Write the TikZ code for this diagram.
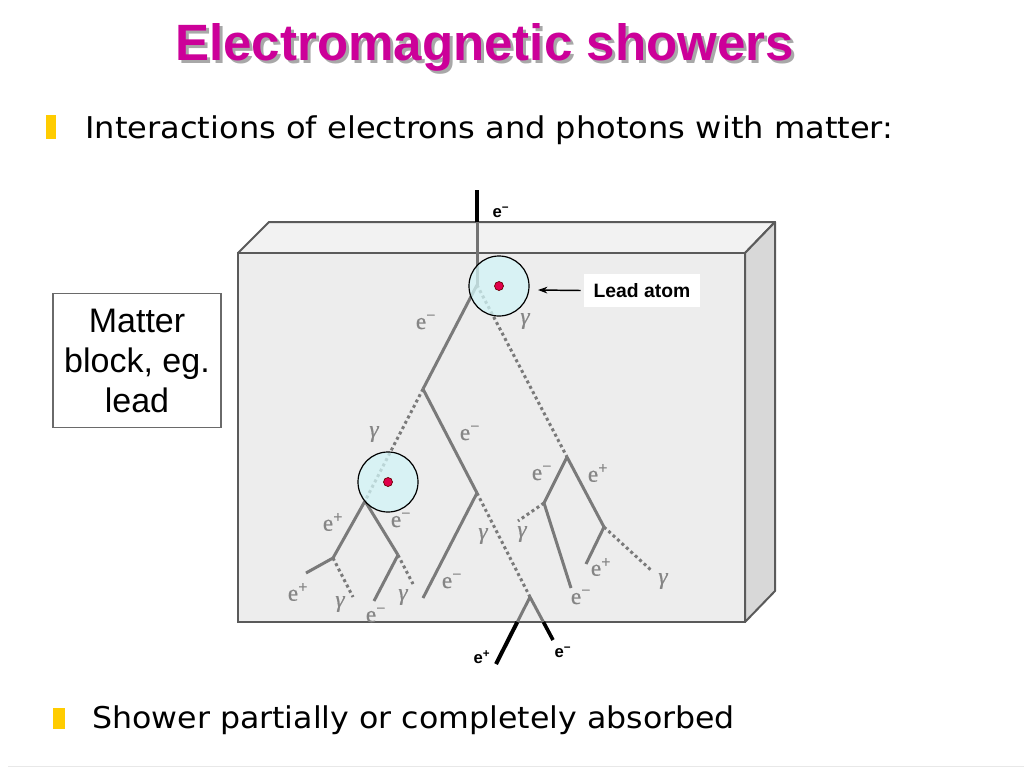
\documentclass[tikz,border=0pt]{standalone}
\usepackage{fontspec}
\usepackage{graphicx}
\usetikzlibrary{arrows.meta}
\newfontfamily\arialfont{Liberation Sans}
\newfontfamily\bulfont{DejaVu Sans}
\newfontfamily\labfont[FakeBold=0.6]{Liberation Serif}
\definecolor{titlemag}{HTML}{CC0099}
\definecolor{shadowgrey}{HTML}{A8A8A8}
\definecolor{bulyellow}{HTML}{FFCC00}
\definecolor{frontgrey}{HTML}{EDEDED}
\definecolor{topgrey}{HTML}{F2F2F2}
\definecolor{sidegrey}{HTML}{D8D8D8}
\definecolor{edgegrey}{HTML}{5A5A5A}
\definecolor{trackgrey}{HTML}{7A7A7A}
\definecolor{labgrey}{HTML}{858585}
\definecolor{atomcyan}{RGB}{210,245,247}
\definecolor{nucleus}{HTML}{E0004A}
\definecolor{boxgrey}{HTML}{6A6A6A}
\definecolor{faintline}{HTML}{E8E8E8}
\newcommand{\eminus}{e\textsuperscript{−}}
\newcommand{\eplus}{e\textsuperscript{+}}
\newcommand{\gam}{\itshape γ}
\tikzset{
  sol/.style={draw=trackgrey, line width=2.25pt},
  dot/.style={draw=trackgrey, line width=2.25pt, dash pattern=on 2.25pt off 2.25pt},
  blk/.style={draw=black, line width=2.7pt},
  lbl/.style={text=labgrey, inner sep=0pt, font=\labfont\fontsize{17.5}{20}\selectfont},
  blab/.style={text=black, inner sep=0pt, font=\arialfont\bfseries\fontsize{12.5}{15}\selectfont},
  atom/.style={circle, draw=black, line width=0.9pt, fill=atomcyan, fill opacity=0.75, minimum size=45pt, inner sep=0pt},
  nuc/.style={circle, fill=nucleus, draw=black!60!red, line width=0.5pt, minimum size=6.75pt, inner sep=0pt},
  bulsq/.style={fill=bulyellow},
  bultext/.style={anchor=base west, inner sep=0pt, font=\bulfont\fontsize{22.5}{27}\selectfont}
}
\begin{document}
\begin{tikzpicture}[x=0.75pt,y=-0.75pt]
\path[use as bounding box] (0,0) rectangle (1024,768);
\fill[white] (0,0) rectangle (1024,768);
\draw[draw=faintline, line width=1.2pt] (8,766.5) -- (1024,766.5);

% title with shadow in one text
\node[anchor=base west, inner sep=0pt, text=titlemag, font=\arialfont\bfseries\fontsize{38.3}{46}\selectfont] (title) at (175,60) {\makebox[0pt][l]{\hspace{2.25pt}\raisebox{-2.25pt}{\color{shadowgrey}Electromagnetic showers}}Electromagnetic showers};

% bullets
\fill[bulsq] (45.7,115) rectangle (56,139.3);
\node[bultext] (bul1) at (85,138.3) {\resizebox{606pt}{\height}{Interactions of electrons and photons with matter:}};
\fill[bulsq] (53,708) rectangle (64.5,729);
\node[bultext] (bul2) at (92,728) {\resizebox{482pt}{\height}{Shower partially or completely absorbed}};

% matter box
\node[draw=boxgrey, line width=1.1pt, fill=white, minimum width=126pt, minimum height=100.5pt, align=center, inner sep=0pt, font=\arialfont\fontsize{25.5}{30}\selectfont] (matter) at (137,360.5) {Matter\\block, eg.\\lead};

% block
\filldraw[fill=topgrey, draw=edgegrey, line width=1.5pt, line join=round] (238,253) -- (269,222) -- (775,222) -- (745,253) -- cycle;
\filldraw[fill=sidegrey, draw=edgegrey, line width=1.5pt, line join=round] (745,253) -- (775,222) -- (775,591) -- (745,622) -- cycle;
\filldraw[fill=frontgrey, draw=edgegrey, line width=1.5pt] (238,253) rectangle (745,622);

% vertices
\coordinate (in) at (477,190);
\coordinate (topin) at (477,222);
\coordinate (V0) at (477,285);
\coordinate (V1) at (423,389);
\coordinate (VR) at (567,457);
\coordinate (V2) at (477,493);
\coordinate (V4) at (365,501);
\coordinate (A) at (333,558);
\coordinate (B) at (398,555);
\coordinate (A1) at (306,573);
\coordinate (A2) at (353,597);
\coordinate (B1) at (374,601);
\coordinate (B2) at (413,584);
\coordinate (V2a) at (423,598);
\coordinate (V3) at (530,597);
\coordinate (V3r) at (543.4,622);
\coordinate (Er) at (553,640);
\coordinate (V3l) at (517.3,622);
\coordinate (El) at (496,664);
\coordinate (C) at (544,503);
\coordinate (D) at (604,527);
\coordinate (C1) at (518,521);
\coordinate (C2) at (571,588);
\coordinate (D1) at (586,564);
\coordinate (D2) at (652,571);

% tracks
\draw[blk, line width=3pt] (in) -- (topin);
\draw[sol, draw=black!55] (topin) -- (V0);
\draw[sol] (V0) -- (V1);
\draw[dot] (V0) -- (VR);
\draw[sol] (V1) -- (V2);
\draw[dot] (V1) -- (V4);
\draw[sol] (V4) -- (A);
\draw[sol] (V4) -- (B);
\draw[sol] (A) -- (A1);
\draw[dot] (A) -- (A2);
\draw[sol] (B) -- (B1);
\draw[dot] (B) -- (B2);
\draw[sol] (V2) -- (V2a);
\draw[dot] (V2) -- (V3);
\draw[sol] (V3) -- (V3r);
\draw[blk] (V3r) -- (Er);
\draw[sol] (V3) -- (V3l);
\draw[blk, line width=3pt] (V3l) -- (El);
\draw[sol] (VR) -- (C);
\draw[sol] (VR) -- (D);
\draw[dot] (C) -- (C1);
\draw[sol] (C) -- (C2);
\draw[sol] (D) -- (D1);
\draw[dot] (D) -- (D2);

% atoms
\node[atom] (atom1) at (499,286) {};
\node[nuc] (nuc1) at (499,286) {};
\node[atom] (atom2) at (388,482) {};
\node[nuc] (nuc2) at (388,482) {};

% lead atom label
\node[fill=white, minimum width=87pt, minimum height=24.75pt, inner sep=0pt, font=\arialfont\bfseries\fontsize{14.5}{17}\selectfont] (leadlab) at (642,290.5) {Lead atom};
\draw[-{Stealth[length=7pt,width=5pt]}, line width=1.1pt] (leadlab.west) ++(-3,0) coordinate (arrtail) -- (538,290) coordinate (arrtip);

% black labels
\node[blab] (lin) at (501,212) {\eminus};
\node[blab] (lout1) at (482,657) {\eplus};
\node[blab] (lout2) at (563,652) {\eminus};

% grey labels
\node[lbl] (g1) at (426,322) {\eminus};
\node[lbl] (g2) at (525,321) {\gam};
\node[lbl] (g3) at (374,434) {\gam};
\node[lbl] (g4) at (470,433) {\eminus};
\node[lbl] (g5) at (542,473) {\eminus};
\node[lbl] (g6) at (598,473) {\eplus};
\node[lbl] (g7) at (333,522) {\eplus};
\node[lbl] (g8) at (401,520) {\eminus};
\node[lbl] (g9) at (522,534) {\gam};
\node[lbl] (g10) at (483,536) {\gam};
\node[lbl] (g11) at (601,567) {\eplus};
\node[lbl] (g12) at (663,581) {\gam};
\node[lbl] (g13) at (581,597) {\eminus};
\node[lbl] (g14) at (452,581) {\eminus};
\node[lbl] (g15) at (298,592) {\eplus};
\node[lbl] (g16) at (340,604) {\gam};
\node[lbl] (g17) at (403,597) {\gam};
\node[lbl] (g18) at (376,615) {\eminus};
\end{tikzpicture}
\end{document}
